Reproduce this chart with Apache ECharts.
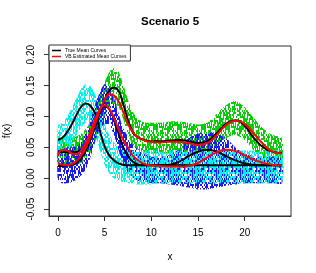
<!DOCTYPE html>
<html><head><meta charset="utf-8">
<script src="https://cdn.jsdelivr.net/npm/echarts@6/dist/echarts.min.js"></script>
<style>html,body{margin:0;padding:0;background:#fff}#c{width:316px;height:273px}</style>
</head><body><div id="c"></div>
<script>
// x grid
const xs = [0,0.5,1,1.5,2,2.5,3,3.5,4,4.5,5,5.5,6,6.5,7,7.5,8,8.5,9,9.5,10,11,12,13,14,15,16,17,18,19,20,21,22,23,24];

// true mean curves (black)
const trueCyan  = [0.062,0.066,0.075,0.088,0.103,0.116,0.121,0.117,0.104,0.076,0.052,0.037,0.029,0.024,0.022,0.021,0.021,0.021,0.021,0.021,0.021,0.021,0.021,0.021,0.021,0.021,0.021,0.021,0.021,0.021,0.021,0.021,0.021,0.021,0.021];
const trueBlue  = [0.020,0.020,0.021,0.022,0.025,0.032,0.045,0.065,0.087,0.107,0.116,0.112,0.095,0.072,0.050,0.036,0.027,0.023,0.021,0.021,0.021,0.021,0.022,0.027,0.036,0.043,0.046,0.043,0.036,0.029,0.024,0.022,0.021,0.021,0.021];
const trueGreen = [0.042,0.042,0.042,0.042,0.043,0.046,0.053,0.066,0.084,0.106,0.127,0.142,0.147,0.141,0.120,0.094,0.075,0.067,0.063,0.061,0.060,0.060,0.061,0.062,0.060,0.057,0.060,0.073,0.088,0.094,0.085,0.065,0.050,0.043,0.041];

// VB estimated mean curves (red)
const estA = [0.036,0.046,0.045,0.040,0.039,0.045,0.058,0.076,0.096,0.112,0.118,0.112,0.097,0.079,0.062,0.050,0.037,0.030,0.025,0.022,0.021,0.020,0.019,0.019,0.020,0.025,0.034,0.042,0.046,0.044,0.037,0.030,0.025,0.022,0.021];
const estB = [0.024,0.022,0.0215,0.023,0.028,0.037,0.050,0.068,0.089,0.110,0.127,0.136,0.134,0.124,0.107,0.088,0.075,0.067,0.063,0.060,0.059,0.058,0.059,0.059,0.057,0.054,0.057,0.070,0.086,0.093,0.088,0.072,0.055,0.043,0.040];

// observed data envelopes (low / high) per group
const greenLo = [0.020,0.020,0.020,0.020,0.022,0.025,0.032,0.042,0.058,0.080,0.100,0.115,0.120,0.115,0.095,0.070,0.055,0.047,0.043,0.041,0.040,0.040,0.040,0.041,0.040,0.037,0.040,0.052,0.065,0.070,0.062,0.045,0.032,0.025,0.022];
const greenHi = [0.065,0.065,0.065,0.066,0.068,0.072,0.080,0.092,0.110,0.135,0.155,0.172,0.178,0.172,0.152,0.127,0.108,0.097,0.092,0.090,0.090,0.090,0.092,0.092,0.090,0.087,0.090,0.104,0.118,0.125,0.115,0.097,0.080,0.070,0.065];
const cyanLo  = [0.035,0.038,0.045,0.055,0.070,0.083,0.090,0.085,0.070,0.045,0.022,0.008,0.000,-0.004,-0.006,-0.008,-0.008,-0.010,-0.010,-0.010,-0.010,-0.008,-0.008,-0.008,-0.008,-0.008,-0.008,-0.008,-0.008,-0.008,-0.008,-0.008,-0.008,-0.008,-0.008];
const cyanHi  = [0.085,0.090,0.100,0.115,0.130,0.145,0.152,0.148,0.135,0.112,0.088,0.070,0.058,0.050,0.046,0.045,0.045,0.045,0.045,0.045,0.045,0.045,0.045,0.045,0.045,0.045,0.045,0.045,0.045,0.045,0.045,0.045,0.045,0.045,0.045];
const blueLo  = [-0.005,-0.008,-0.008,-0.006,-0.002,0.005,0.015,0.035,0.060,0.080,0.088,0.085,0.070,0.045,0.025,0.010,0.000,-0.004,-0.005,-0.006,-0.008,-0.008,-0.010,-0.012,-0.015,-0.018,-0.018,-0.015,-0.012,-0.010,-0.008,-0.008,-0.008,-0.008,-0.008];
const blueHi  = [0.045,0.048,0.050,0.050,0.052,0.060,0.075,0.095,0.120,0.140,0.152,0.148,0.130,0.105,0.080,0.065,0.055,0.048,0.042,0.038,0.035,0.035,0.038,0.048,0.065,0.072,0.075,0.072,0.065,0.050,0.040,0.036,0.035,0.035,0.035];

const xTicks = [0,5,10,15,20];
const yTicks = [-0.05,0,0.05,0.10,0.15,0.20];

// dotted-line texture (style only): irregular short vertical dashes from a fixed hash
function pattern(color, density, seed){
  const w = 24, h = 24;
  const c = document.createElement('canvas');
  c.width = w; c.height = h;
  const g = c.getContext('2d'); g.fillStyle = color;
  for (let x=0;x<w;x++) for (let y=0;y<h;y++){
    let v = (x*374761393 + Math.floor(y/2)*668265263 + seed*2147483647) | 0;
    v = Math.imul(v ^ (v >>> 13), 1274126177); v ^= v >>> 16;
    if (((v >>> 0) % 100) < density) g.fillRect(x,y,1,1);
  }
  return {image:c, repeat:'repeat'};
}
const pGreen = pattern('#00cc00', 62, 1);
const pCyan  = pattern('#00eeee', 62, 2);
const pBlue  = pattern('#1a1aff', 55, 3);

function pairs(ys){ return xs.map((x,i)=>[x,ys[i]]); }
// band drawn as one smoothed polygon through the axis scale (api.coord)
function band(lo, hi, pat, from, to){
  return {
    type:'custom', silent:true, clip:true,
    data: xs.map((x,i)=>[x, lo[i], hi[i]]),
    encode:{x:0, y:[1,2]},
    renderItem:function(params, api){
      if (params.dataIndex !== 0) return null;
      const top = [], bot = [];
      for (let i=from;i<=to;i++){ top.push(api.coord([xs[i], hi[i]])); bot.push(api.coord([xs[i], lo[i]])); }
      return {type:'polygon', shape:{points: top.concat(bot.reverse()), smooth:0.25},
              style:{fill:pat}};
    }
  };
}
function curve(name, ys, color){
  return {type:'line', name:name, data:pairs(ys), showSymbol:false, smooth:true,
          lineStyle:{color:color, width:2}, itemStyle:{color:color}};
}

const last = xs.length - 1;
const font = 'Liberation Sans, Arial, sans-serif';
const chart = echarts.init(document.getElementById('c'), null, {renderer:'canvas'});
chart.setOption({
  animation:false,
  backgroundColor:'#fff',
  title:{text:'Scenario 5', left:141, top:16, padding:0,
         textStyle:{fontFamily:font, fontSize:11.5, fontWeight:'bold', color:'#000'}},
  grid:{left:49, top:46, right:25, bottom:57, show:true, borderColor:'#333', borderWidth:1,
        containLabel:false, outerBoundsMode:'none'},
  legend:{left:49, top:45, orient:'vertical', itemGap:1, itemWidth:9, itemHeight:1.5,
          padding:[3,4,2,3], borderColor:'#333', borderWidth:1, borderRadius:0, backgroundColor:'#fff',
          textStyle:{fontFamily:font, fontSize:5, color:'#000', padding:[0,0,0,-1]},
          data:[{name:'True Mean Curves', icon:'rect', itemStyle:{color:'#000'}},
                {name:'VB Estimated Mean Curves', icon:'rect', itemStyle:{color:'#ff0000'}}]},
  xAxis:{type:'value', min:-0.96, max:24.96, name:'x', nameLocation:'middle', nameGap:36,
         nameTextStyle:{fontFamily:font, fontSize:10, color:'#000'},
         axisLine:{show:true, onZero:false, lineStyle:{color:'#333'}},
         axisTick:{show:true, inside:false, length:5, customValues:xTicks, lineStyle:{color:'#333'}},
         axisLabel:{customValues:xTicks, margin:12, fontFamily:font, fontSize:10, color:'#000'},
         splitLine:{show:false}},
  yAxis:{type:'value', min:-0.061, max:0.214, name:'f(x)', nameLocation:'middle', nameGap:37, nameRotate:90,
         nameTextStyle:{fontFamily:font, fontSize:10, color:'#000'},
         axisLine:{show:true, onZero:false, lineStyle:{color:'#333'}},
         axisTick:{show:true, inside:false, length:5, customValues:yTicks, lineStyle:{color:'#333'}},
         axisLabel:{customValues:yTicks, rotate:90, margin:13, fontFamily:font, fontSize:10, color:'#000',
                    formatter:v=>v.toFixed(2)},
         splitLine:{show:false}},
  series:[
    band(greenLo, greenHi, pGreen, 0, last),
    band(blueLo, blueHi, pBlue, 14, last),
    band(cyanLo, cyanHi, pCyan, 0, last),
    band(blueLo, blueHi, pBlue, 0, 15),
    curve('True Mean Curves', trueCyan, '#000'),
    curve('True Mean Curves', trueBlue, '#000'),
    curve('True Mean Curves', trueGreen, '#000'),
    curve('VB Estimated Mean Curves', estA, '#ff0000'),
    curve('VB Estimated Mean Curves', estB, '#ff0000')
  ]
});
</script></body></html>
